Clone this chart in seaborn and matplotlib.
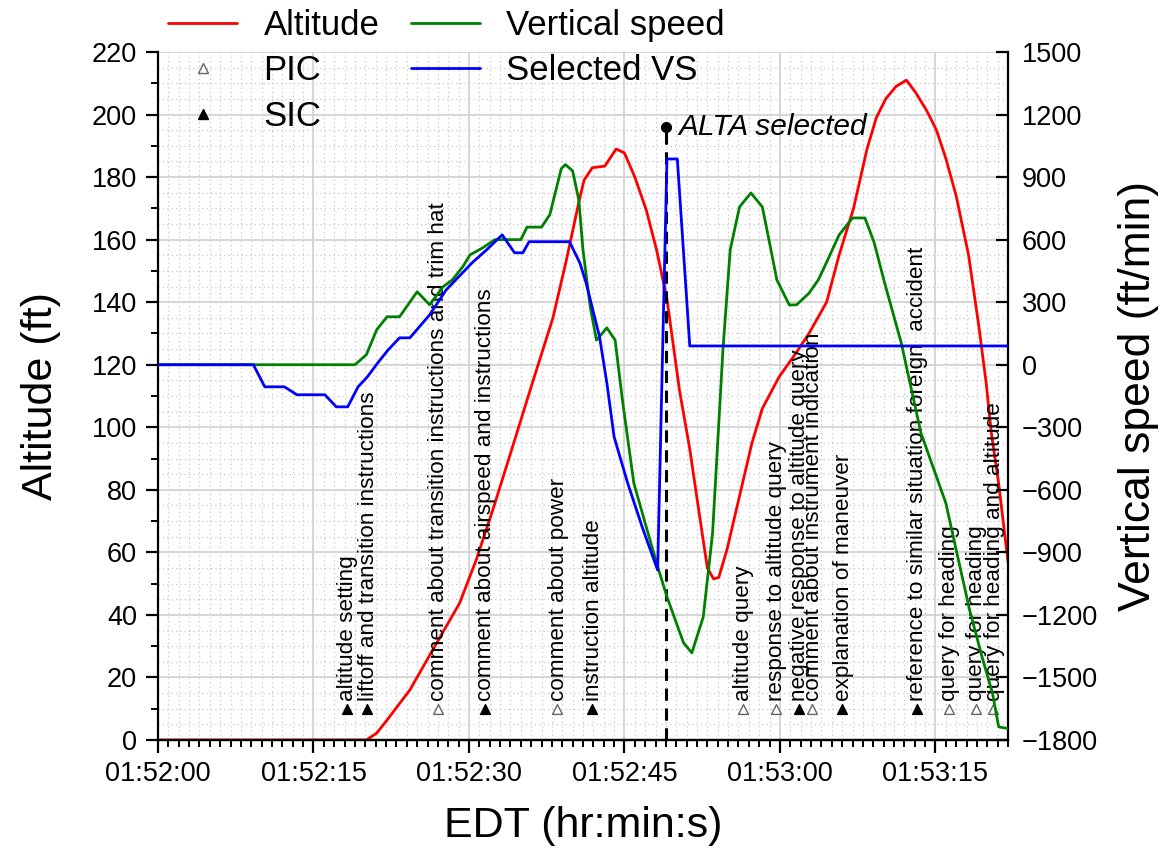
import numpy as np
import pandas as pd
import matplotlib
matplotlib.use("Agg")
import matplotlib.pyplot as plt
import seaborn as sns
from matplotlib.lines import Line2D
from matplotlib.ticker import MultipleLocator

# ---------------- data (seconds after 01:52:00) ----------------
alt_t = [0, 20.1, 21.1, 22.1, 24.3, 26.5, 29.1, 30.7, 32.3, 34.2, 36.1, 38.1, 39.4,
         40.6, 41.1, 41.9, 43.1, 44.2, 45.0, 46.0, 47.1, 48.1, 49.1, 50.3,
         51.3, 52.5, 53.0, 53.6, 54.1, 54.9, 56.1, 57.3, 58.3, 59.9, 61.6, 62.8, 64.5,
         65.7, 67.1, 68.4, 69.3, 70.2, 71.2, 72.2, 73.1, 74.2, 75.1, 76.0, 77.0,
         78.2, 79.2, 79.9, 80.4, 81.1, 82.0]
alt_ft = [0, 0, 2.2, 6.4, 16, 28.8, 43.8, 57.6, 73.6, 93.7, 114, 135, 153.5,
          172, 179, 183, 183.5, 189, 187.7, 180, 169.5, 156.7, 141, 112,
          93, 66, 55, 51.5, 52, 61, 78, 95, 106, 116, 124, 130, 140,
          155, 170, 189, 199, 205, 209, 211, 207, 201, 195, 186, 174,
          155, 132, 114, 98, 82, 57]

vs_t = [0, 19.0, 20.1, 21.1, 22.1, 23.3, 25.0, 26.2, 27.5, 28.4, 29.4, 30.1, 31.3,
        32.5, 35.0, 35.6, 37.0, 37.8, 38.9, 39.3, 40.0, 40.6, 41.0, 41.7, 42.3,
        43.3, 44.1, 44.8, 45.9, 47.1, 48.3, 49.1, 50.0, 50.7, 51.5, 52.6, 53.5,
        54.5, 55.2, 56.1, 57.2, 58.3, 59.0, 59.7, 60.9, 61.6, 62.8, 63.7, 64.6,
        65.7, 67.0, 68.2, 69.1, 70.1, 71.7, 73.6, 76.0, 77.0, 78.3, 79.5, 80.5,
        81.1, 82.0]
vs_fpm = [0, 0, 48, 168, 230, 230, 350, 288, 374, 407, 470, 527, 560,
          600, 600, 660, 660, 720, 940, 960, 930, 789, 550, 277, 118,
          177, 118, -168, -567, -778, -984, -1113, -1238, -1334, -1382, -1210, -808,
          71, 551, 757, 824, 757, 584, 407, 287, 287, 343, 407, 502,
          622, 704, 704, 584, 392, 105, -327, -663, -888, -1177, -1402, -1575,
          -1737, -1745]

sel_t = [0, 9.2, 10.3, 12.2, 13.4, 16.1, 17.2, 18.3, 19.3, 20.2, 21.2, 22.2, 23.3,
         24.3, 26.2, 27.8, 30.3, 31.7, 33.2, 34.4, 35.2, 35.8, 39.7, 40.7, 41.3,
         42.6, 43.3, 44.0, 45.3, 46.7, 48.2, 49.1, 50.1, 51.3, 82.0]
sel_fpm = [0, 0, -106, -106, -144, -144, -202, -202, -106, -58, 9, 71, 129,
           129, 239, 359, 489, 551, 623, 537, 537, 590, 590, 488, 392,
           133, -87, -346, -566, -777, -985, 987, 987, 90, 90]

x_tick_pos = [0, 15, 30, 45, 60, 75]
x_tick_labels = ["01:52:00", "01:52:15", "01:52:30", "01:52:45", "01:53:00", "01:53:15"]

event_t = [18.2, 20.2, 27.0, 31.5, 38.5, 41.9, 56.4, 59.6, 61.8, 63.1, 66.0, 73.2,
           76.3, 78.9, 80.6]
event_role = ["SIC", "SIC", "PIC", "SIC", "PIC", "SIC", "PIC", "PIC", "SIC", "PIC",
              "SIC", "SIC", "PIC", "PIC", "PIC"]
event_text = ["altitude setting",
              "liftoff and transition instructions",
              "comment about transition instructions and trim hat",
              "comment about airspeed and instructions",
              "comment about power",
              "instruction altitude",
              "altitude query",
              "response to altitude query",
              "negative response to altitude query",
              "comment about instrument indication",
              "explanation of maneuver",
              "reference to similar situation foreign  accident",
              "query for heading",
              "query for heading",
              "query for heading and altitude"]
event_alt = 10

alta_t = 49.0
alta_alt = 196

# ---------------- style ----------------
sns.set_theme(style="ticks")
plt.rcParams["font.family"] = ["Liberation Sans", "DejaVu Sans"]
plt.rcParams["axes.linewidth"] = 1.6
for k in ["text.color", "axes.labelcolor", "xtick.color", "ytick.color", "axes.edgecolor"]:
    plt.rcParams[k] = "black"

fig = plt.figure(figsize=(11.62, 8.59), dpi=100)
ax = fig.add_axes([158 / 1162, 1 - 740 / 859, 850 / 1162, 688 / 859])
ax2 = ax.twinx()

alt_df = pd.DataFrame({"t": alt_t, "alt": alt_ft})
vs_df = pd.DataFrame({"t": vs_t, "vs": vs_fpm})
sel_df = pd.DataFrame({"t": sel_t, "vs": sel_fpm})

LW = 2.0
sns.lineplot(data=alt_df, x="t", y="alt", ax=ax, color="#ff0000", lw=LW,
             estimator=None, sort=False, zorder=3)
sns.lineplot(data=vs_df, x="t", y="vs", ax=ax2, color="#008000", lw=LW,
             estimator=None, sort=False, zorder=3)
sns.lineplot(data=sel_df, x="t", y="vs", ax=ax2, color="#0000ff", lw=LW,
             estimator=None, sort=False, zorder=3)

# events
ev = pd.DataFrame({"t": event_t, "role": event_role, "txt": event_text})
ev["alt"] = event_alt
pic = ev[ev.role == "PIC"]
sic = ev[ev.role == "SIC"]
sns.scatterplot(data=pic, x="t", y="alt", ax=ax, marker="^", s=50, color="white",
                edgecolor="#666666", linewidth=1.0, zorder=6)
sns.scatterplot(data=sic, x="t", y="alt", ax=ax, marker="^", s=50, color="black",
                edgecolor="black", linewidth=1.0, zorder=6)
for _, r in ev.iterrows():
    ax.text(r.t + 0.1, r.alt + 2.4, r.txt, rotation=90, rotation_mode="anchor",
            ha="left", va="center", fontsize=16.2, color="black", zorder=7)

# ALTA selected
ax.plot([alta_t, alta_t], [0, alta_alt], color="black", lw=2.2,
        ls=(0, (4, 2.5)), zorder=5)
ax.plot([alta_t], [alta_alt], marker="o", color="black", ms=7, zorder=6)
ax.text(alta_t + 1.2, alta_alt, "ALTA selected", fontsize=21.5, style="italic",
        ha="left", va="center", zorder=7)

# axes limits & ticks
ax.set_xlim(0, 82)
ax.set_ylim(0, 220)
ax2.set_ylim(-1800, 1500)
ax.set_xticks(x_tick_pos)
ax.set_xticklabels(x_tick_labels)
ax.xaxis.set_minor_locator(MultipleLocator(1))
ax.yaxis.set_major_locator(MultipleLocator(20))
ax.yaxis.set_minor_locator(MultipleLocator(10))
ax2.yaxis.set_major_locator(MultipleLocator(300))

ax.tick_params(axis="both", which="major", direction="out", length=9, width=1.6,
               labelsize=19.5, colors="black", pad=6)
ax.tick_params(axis="both", which="minor", direction="out", length=5, width=1.4,
               colors="black")
ax2.tick_params(axis="y", which="major", direction="in", length=9, width=1.6,
                labelsize=19.5, pad=10, colors="black")

ax.spines["top"].set_visible(False)
ax.spines["right"].set_visible(False)
ax2.spines["top"].set_visible(False)
ax2.spines["left"].set_visible(False)
for s in ["left", "bottom"]:
    ax.spines[s].set_color("black")
ax2.spines["right"].set_color("black")

# grid
ax.grid(False)
ax2.grid(False)
for xv in np.arange(1, 82, 1):
    if xv % 15:
        ax.axvline(xv, color="#c8c8c8", lw=0.9, ls=(0, (1, 2.5)), zorder=0)
for yv in np.arange(5, 220, 5):
    if yv % 20:
        ax.axhline(yv, color="#c8c8c8", lw=0.9, ls=(0, (1, 2.5)), zorder=0)
for xv in x_tick_pos[1:]:
    ax.axvline(xv, color="#d0d0d0", lw=1.2, zorder=0)
for yv in np.arange(20, 221, 20):
    ax.axhline(yv, color="#d0d0d0", lw=1.2, zorder=0)

ax.set_xlabel("EDT (hr:min:s)", fontsize=31, labelpad=14, color="black")
ax.set_ylabel("Altitude (ft)", fontsize=31, labelpad=22, color="black")
ax2.set_ylabel("Vertical speed (ft/min)", fontsize=32, labelpad=14, color="black")

# legend
handles = [
    Line2D([], [], color="#ff0000", lw=LW),
    Line2D([], [], ls="none", marker="^", mfc="white", mec="#666666", ms=7),
    Line2D([], [], ls="none", marker="^", mfc="black", mec="black", ms=7),
    Line2D([], [], color="#008000", lw=LW),
    Line2D([], [], color="#0000ff", lw=LW),
]
labels = ["Altitude", "PIC", "SIC", "Vertical speed", "Selected VS"]
leg = fig.legend(handles, labels, loc="upper left",
                 bbox_to_anchor=(168 / 1162, 1 - 9 / 859),
                 ncol=2, frameon=False, fontsize=25, handlelength=2.0,
                 handletextpad=0.75, columnspacing=0.9, labelspacing=0.36,
                 borderpad=0, borderaxespad=0)
for t in leg.get_texts():
    t.set_color("black")

fig.savefig("out.png", dpi=100)
